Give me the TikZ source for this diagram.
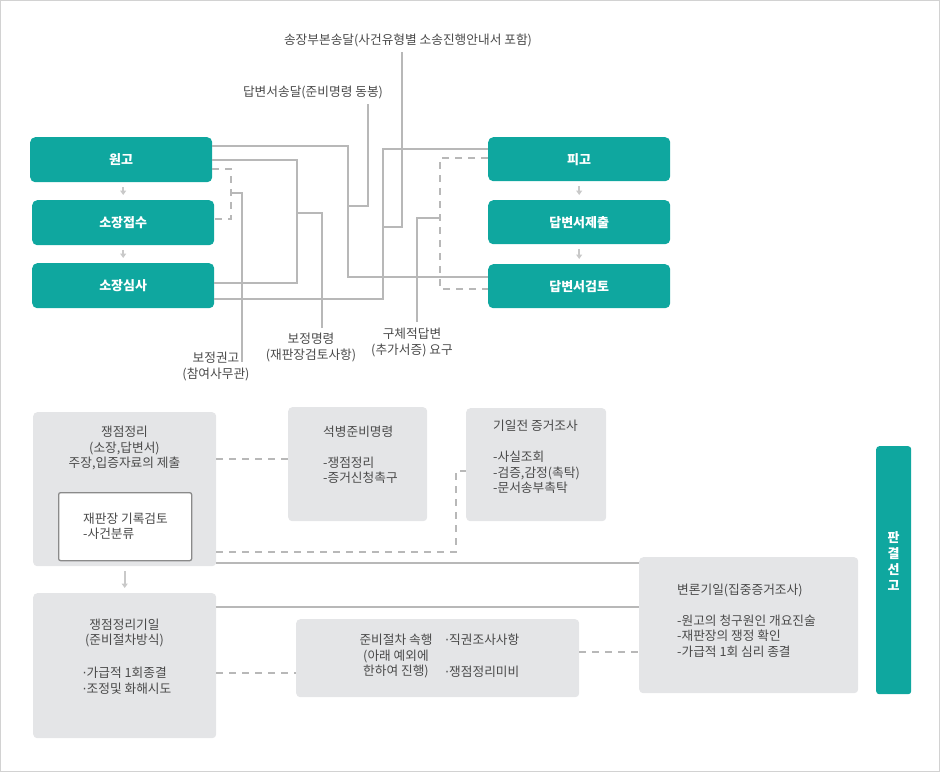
\documentclass[tikz,border=0pt]{standalone}
\usepackage{fontspec}
\setmainfont{Noto Sans CJK KR}
\newfontfamily\dotfont{DejaVu Sans}
\usetikzlibrary{arrows.meta}
\definecolor{teal1}{HTML}{0FA79F}
\definecolor{boxg}{HTML}{E4E5E7}
\definecolor{lineg}{HTML}{B8B8B8}
\definecolor{txtg}{HTML}{4A4A4A}
\definecolor{arrg}{HTML}{C9C9C9}
\definecolor{frameg}{HTML}{D2D2D2}
\definecolor{innerb}{HTML}{8A8A8A}
\newcommand{\mdot}{{\dotfont ·}}
\begin{document}
\begin{tikzpicture}[x=1pt,y=-1pt,
 tbox/.style={fill=teal1, rounded corners=5pt, anchor=north west, inner sep=0pt, minimum width=182pt, text=white, font=\fontsize{13}{15}\selectfont\bfseries},
 gbox/.style={fill=boxg, rounded corners=4pt, anchor=north west, inner sep=0pt},
 lbl/.style={text=txtg, font=\fontsize{12.7}{16}\selectfont, align=center, inner sep=0pt},
 txt/.style={text=txtg, font=\fontsize{12.7}{15.5}\selectfont, inner sep=0pt},
 conn/.style={draw=lineg, line width=1.4pt},
 dconn/.style={draw=lineg, line width=1.4pt, dash pattern=on 7pt off 6pt},
 arr/.style={draw=arrg, line width=1.8pt, -{Triangle[width=6pt,length=4.5pt]}, shorten <=5pt, shorten >=5pt}]
\useasboundingbox (0,0) rectangle (940,772);
\draw[frameg, line width=1pt] (0.5,0.5) rectangle (939.5,771.5);

% ---------- top teal boxes ----------
\node[tbox, minimum height=45pt] (wongo) at (30,137) {원고};
\node[tbox, minimum height=45pt] (jeopsu) at (32,200) {소장접수};
\node[tbox, minimum height=45pt] (simsa) at (32,263) {소장심사};
\node[tbox, minimum height=44pt] (pigo) at (488,137) {피고};
\node[tbox, minimum height=44pt] (jechul) at (488,200) {답변서제출};
\node[tbox, minimum height=44pt] (geomto) at (488,264) {답변서검토};

\draw[arr] (wongo.south -| jeopsu.north) -- (jeopsu.north);
\draw[arr] (jeopsu.south) -- (simsa.north);
\draw[arr] (pigo.south) -- (jechul.north);
\draw[arr] (jechul.south) -- (geomto.north);

% ---------- top labels ----------
\node[lbl] (lsong) at (408,40) {송장부본송달(사건유형별 소송진행안내서 포함)};
\node[lbl] (ldap) at (313,92) {답변서송달(준비명령 동봉)};
\node[lbl] (lbk) at (216,366) {보정권고\\(참여사무관)};
\node[lbl] (lbm) at (311,347) {보정명령\\(재판장검토사항)};
\node[lbl] (lgc) at (412,342) {구체적답변\\(추가서증) 요구};

% ---------- top connectors ----------
\coordinate (jA) at (348,277);
\coordinate (jB) at (297,283);
\coordinate (jC) at (231,219);
\coordinate (jD) at (383,149);
\coordinate (jE) at (440,289);

\draw[conn] ([yshift=-9pt]wongo.north east) -| (jA) -- (jA -| geomto.west);
\draw[conn] ([yshift=-23pt]wongo.north east) -| (jB) -- (jB -| simsa.east);
\draw[dconn] ([yshift=-32pt]wongo.north east) -| (jC) -- (jC -| jeopsu.east);
\draw[conn] ([yshift=-36pt]simsa.north east) -| (jD) -- (jD -| pigo.west);
\draw[dconn] ([yshift=-21pt]pigo.north west) -| (jE) -- (jE -| geomto.west);

% leaders
\coordinate (kdap) at (368,206);
\coordinate (kdapT) at (368,104);
\draw[conn] (kdapT) -- (kdap) -- (kdap -| jA);
\coordinate (kbm) at (322,213);
\coordinate (kbmB) at (322,328);
\draw[conn] (kbmB) -- (kbm) -- (kbm -| jB);
\coordinate (kbk) at (242,193);
\coordinate (kbkB) at (242,362);
\draw[conn] (kbkB) -- (kbk) -- (kbk -| jC);
\coordinate (ksong) at (402,227);
\coordinate (ksongT) at (402,52);
\draw[conn] (ksongT) -- (ksong) -- (ksong -| jD);
\coordinate (kgc) at (417,218);
\coordinate (kgcB) at (417,322);
\draw[conn] (kgcB) -- (kgc) -- (kgc -| jE);

% ---------- bottom boxes ----------
\node[gbox, minimum width=183pt, minimum height=154pt] (jj) at (33,412) {};
\node[anchor=north west, fill=white, draw=innerb, line width=1.3pt, rounded corners=2pt, minimum width=133pt, minimum height=68pt, inner sep=0pt] (inner) at (58,492) {};
\node[gbox, minimum width=139pt, minimum height=114pt] (seok) at (288,407) {};
\node[gbox, minimum width=140pt, minimum height=113pt] (gij) at (466,408) {};
\node[gbox, minimum width=183pt, minimum height=145pt] (jjd) at (33,593) {};
\node[gbox, minimum width=283pt, minimum height=78pt] (jbj) at (296,619) {};
\node[gbox, minimum width=219pt, minimum height=136pt] (brgi) at (639,557) {};
\node[fill=teal1, rounded corners=3pt, anchor=north west, inner sep=0pt, minimum width=35pt, minimum height=248pt] (pg) at (876,446) {};

% texts
\node[txt, align=center] (tjj) at (124.5,448) {쟁점정리\\(소장,답변서)\\주장,입증자료의 제출};
\node[txt, align=left, anchor=west] (tinner) at (83,526) {재판장 기록검토\\-사건분류};
\node[txt, align=left, anchor=west] (tseok) at (323,454.5) {석병준비명령\\[15.5pt]-쟁점정리\\-증거신청촉구};
\node[txt, align=left, anchor=west] (tgij) at (493,457) {기일전 증거조사\\[15.5pt]-사실조회\\-검증,감정(촉탁)\\-문서송부촉탁};
\node[txt, align=center] (tjjd) at (124.5,633) {쟁점정리기일\\(준비절차방식)};
\node[txt, align=left, anchor=west] (tjjdb) at (82.5,680.5) {\mdot 가급적 1회종결\\\mdot 조정및 화해시도};
\node[txt, align=center] (tjbj) at (396,656) {준비절차 속행\\(아래 예외에\\한하여 진행)};
\node[txt, anchor=west] (tjbj1) at (445,640) {\mdot 직권조사사항};
\node[txt, anchor=west] (tjbj2) at (445,672) {\mdot 쟁점정리미비};
\node[txt, align=left, anchor=west] (tbrgi) at (677,620.5) {변론기일(집중증거조사)\\[15.8pt]-원고의 청구원인 개요진술\\-재판장의 쟁정 확인\\-가급적 1회 심리 종결};
\node[text=white, font=\fontsize{13}{16}\selectfont\bfseries, align=center, inner sep=0pt] (tpg) at (893.5,561) {판\\결\\선\\고};

% bottom connectors
\draw[dconn] ([yshift=-47pt]jj.north east) -- ([yshift=-47pt]jj.north east -| seok.west);
\coordinate (jF) at (456,471);
\draw[dconn] ([yshift=-140pt]jj.north east) -| (jF) -- (jF -| gij.west);
\draw[conn] ([yshift=-151pt]jj.north east) -- ([yshift=-151pt]jj.north east -| brgi.west);
\draw[conn] ([yshift=-14pt]jjd.north east) -- ([yshift=-14pt]jjd.north east -| brgi.west);
\draw[dconn] ([yshift=-80pt]jjd.north east) -- ([yshift=-80pt]jjd.north east -| jbj.west);
\draw[dconn] ([yshift=-33pt]jbj.north east) -- ([yshift=-33pt]jbj.north east -| brgi.west);
\draw[arr] (jj.south) -- (jjd.north);
\end{tikzpicture}
\end{document}
